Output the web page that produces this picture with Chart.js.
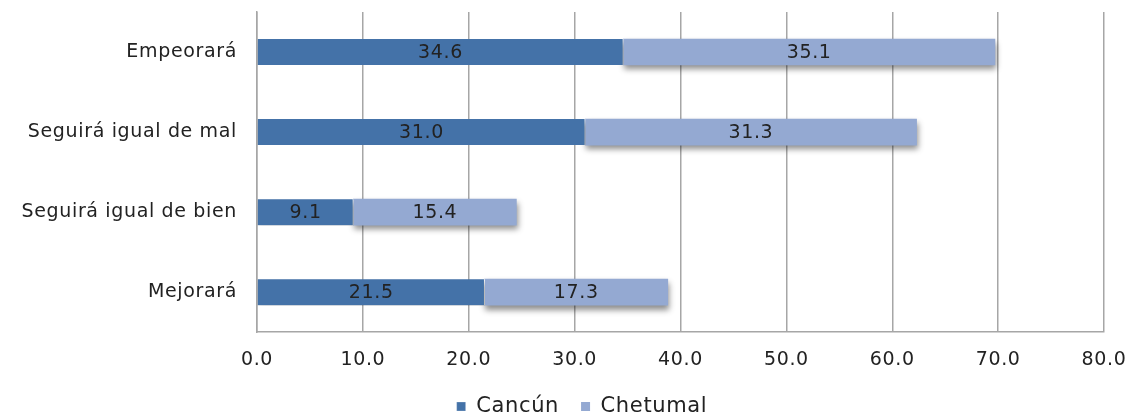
<!DOCTYPE html>
<html><head><meta charset="utf-8">
<script src="https://cdn.jsdelivr.net/npm/chart.js@4"></script>
<style>html,body{margin:0;padding:0;background:#fff}#wrap{width:1137px;height:420px}</style>
</head><body><div id="wrap"><canvas id="c" width="1137" height="420"></canvas></div>
<script>
const categories = ["Empeorará", "Seguirá igual de mal", "Seguirá igual de bien", "Mejorará"];
const cancun = [34.6, 31.0, 9.1, 21.5];
const chetumal = [35.1, 31.3, 15.4, 17.3];
const seriesNames = ["Cancún", "Chetumal"];
const xTicks = [0, 10, 20, 30, 40, 50, 60, 70, 80];

const FONT = "'DejaVu Sans', sans-serif";
const LS = '0.65px';

const spacingPlugin = {
  id: 'spacing',
  beforeUpdate(chart) { chart.ctx.letterSpacing = LS; },
  beforeDraw(chart) { chart.ctx.letterSpacing = LS; }
};

const shadowPlugin = {
  id: 'shadow',
  beforeDatasetsDraw(chart) {
    const ctx = chart.ctx; ctx.save();
    ctx.shadowColor = 'rgba(0,0,0,0.45)'; ctx.shadowBlur = 6; ctx.shadowOffsetX = 1; ctx.shadowOffsetY = 4;
  },
  afterDatasetsDraw(chart) {
    const ctx = chart.ctx; ctx.restore();
    ctx.save();
    ctx.letterSpacing = LS;
    ctx.font = "19px " + FONT; ctx.fillStyle = '#222'; ctx.textAlign = 'center'; ctx.textBaseline = 'middle';
    chart.data.datasets.forEach((ds, i) => {
      chart.getDatasetMeta(i).data.forEach((bar, j) => {
        const x = (bar.x + bar.base) / 2;
        ctx.fillText(ds.data[j].toFixed(1), x, bar.y + 1);
      });
    });
    ctx.restore();
  }
};

new Chart(document.getElementById('c'), {
  type: 'bar',
  data: {
    labels: categories,
    datasets: [
      { label: seriesNames[0], data: cancun, backgroundColor: '#4472a8', borderColor: '#ffffff', borderWidth: {right: 1}, borderSkipped: false, barThickness: 26 },
      { label: seriesNames[1], data: chetumal, backgroundColor: '#94a9d2', borderColor: '#ffffff', borderWidth: 0, barThickness: 26 }
    ]
  },
  options: {
    indexAxis: 'y',
    responsive: false,
    animation: false,
    devicePixelRatio: 1,
    layout: { padding: { top: 12, right: -27, left: 0, bottom: -7 } },
    plugins: {
      legend: {
        position: 'bottom',
        labels: { boxWidth: 9, boxHeight: 9, font: { family: FONT, size: 21 }, color: '#222', padding: 22 }
      },
      tooltip: { enabled: false }
    },
    scales: {
      x: {
        stacked: true, min: 0, max: 80,
        afterBuildTicks(s) { s.ticks = xTicks.map(v => ({ value: v })); },
        afterFit(s) { s.height -= 13; s.paddingLeft = 0; s.paddingRight = 33; },
        ticks: { callback: v => v.toFixed(1), font: { family: FONT, size: 19 }, color: '#222', padding: 16, maxRotation: 0 },
        grid: { color: '#a6a6a6', lineWidth: 1.5, drawTicks: false },
        border: { color: '#a6a6a6', width: 1.5 }
      },
      y: {
        stacked: true,
        afterFit(s) { s.width = 257; s.paddingTop = 0; s.paddingBottom = 0; },
        ticks: { font: { family: FONT, size: 19 }, color: '#222', padding: 20 },
        grid: { display: false, drawTicks: false },
        border: { color: '#a6a6a6', width: 1.5 }
      }
    }
  },
  plugins: [spacingPlugin, shadowPlugin]
});
</script></body></html>
